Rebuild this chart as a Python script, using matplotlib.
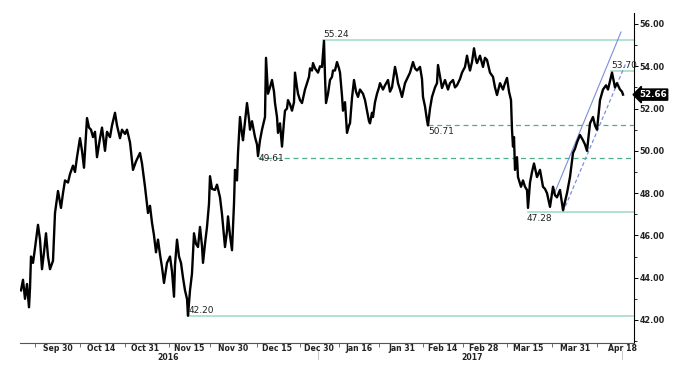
import matplotlib
matplotlib.use('Agg')
import matplotlib.pyplot as plt
import matplotlib.transforms as mtransforms
from matplotlib.ticker import MultipleLocator, FormatStrFormatter

# 시간축(봉 번호)과 가격
bar_x = [21, 23, 25, 27, 29, 30, 31, 33, 35, 38, 40, 42, 44, 46, 48, 50, 53, 55, 58, 61,
         63, 65, 68, 70, 73, 75, 77, 80, 82, 84, 87, 89, 91, 93, 95, 97, 100, 102, 105, 107,
         110, 112, 115, 117, 120, 122, 125, 127, 130, 133, 136, 140, 142, 145, 148, 150, 152, 154, 156, 158,
         160, 162, 164, 167, 170, 172, 174, 175, 177, 179, 181, 183, 185, 187, 188, 190, 192, 194, 196, 198,
         200, 202, 203, 205, 207, 209, 210, 212, 215, 217, 220, 222, 225, 227, 228, 230, 232, 234, 235, 237,
         238, 240, 242, 243, 245, 247, 249, 250, 252, 255, 257, 258, 260, 262, 265, 266, 267, 268, 270, 272,
         274, 275, 277, 278, 280, 282, 284, 285, 287, 288, 290, 292, 294, 295, 297, 298, 300, 302, 305, 307,
         309, 310, 312, 313, 315, 318, 320, 322, 323, 324, 325, 326, 328, 330, 332, 333, 335, 337, 339, 340,
         342, 343, 345, 347, 349, 350, 352, 354, 356, 358, 360, 363, 365, 367, 369, 370, 372, 373, 375, 377,
         379, 380, 383, 385, 388, 390, 392, 395, 397, 398, 400, 402, 404, 405, 408, 410, 413, 415, 417, 420,
         422, 423, 425, 427, 428, 430, 432, 435, 437, 438, 440, 442, 445, 448, 450, 453, 455, 457, 460, 462,
         465, 467, 469, 470, 472, 474, 476, 477, 480, 483, 485, 487, 490, 493, 495, 497, 500, 503, 505, 507,
         509, 511, 512, 513, 514, 515, 517, 518, 521, 523, 525, 527, 528, 530, 532, 534, 537, 540, 543, 545,
         547, 550, 553, 555, 557, 560, 563, 565, 567, 570, 573, 575, 577, 580, 583, 585, 587, 590, 593, 595,
         597, 600, 603, 606, 608, 610, 612, 615, 617, 620, 622, 623]
price = [43.4, 43.9, 43.0, 43.7, 42.6, 43.5, 45.0, 44.7, 45.4, 46.5, 45.8, 44.4, 45.2, 46.1, 45.0, 44.4, 44.8, 47.06, 48.1, 47.3,
         48.0, 48.6, 48.5, 48.9, 49.3, 49.0, 49.7, 50.6, 50.0, 49.2, 51.55, 51.1, 51.0, 50.65, 50.9, 49.7, 50.6, 51.1, 50.0, 50.9,
         50.65, 51.2, 51.8, 51.2, 50.6, 51.0, 50.8, 51.0, 50.4, 49.1, 49.5, 49.9, 49.4, 48.3, 47.06, 47.4, 46.6, 46.0, 45.2, 45.8,
         45.1, 44.5, 43.75, 44.7, 45.0, 44.3, 43.1, 44.6, 45.8, 45.0, 44.7, 44.0, 43.4, 43.0, 42.2, 43.4, 44.2, 46.1, 45.6, 45.45,
         46.4, 45.5, 44.7, 45.6, 46.4, 47.5, 48.8, 48.2, 48.15, 48.4, 47.8, 47.0, 45.45, 46.2, 46.9, 46.0, 45.3, 47.5, 49.1, 48.6,
         49.9, 51.6, 50.8, 50.5, 51.4, 52.26, 51.5, 51.0, 51.4, 50.65, 50.3, 49.75, 50.5, 51.0, 51.6, 54.4, 53.5, 52.7, 53.0, 53.35,
         52.8, 52.26, 51.6, 50.85, 51.3, 50.2, 51.4, 51.9, 52.0, 52.4, 52.2, 51.9, 52.3, 53.7, 53.0, 52.7, 52.4, 52.26, 52.9, 53.2,
         53.5, 53.9, 53.8, 54.15, 53.9, 53.7, 54.0, 53.97, 54.6, 55.2, 53.5, 52.26, 52.7, 53.35, 53.5, 53.8, 53.8, 54.2, 53.9, 53.7,
         52.6, 51.9, 52.3, 50.85, 51.2, 51.3, 52.5, 53.35, 52.8, 52.55, 52.9, 52.7, 52.4, 51.9, 51.4, 51.3, 51.8, 51.6, 52.3, 52.7,
         53.0, 53.2, 52.9, 53.1, 53.35, 52.8, 53.0, 53.97, 53.5, 53.2, 52.9, 52.55, 53.0, 53.2, 53.5, 53.7, 54.2, 53.9, 53.8, 53.97,
         53.4, 52.55, 52.1, 51.45, 51.2, 52.0, 52.55, 53.0, 53.2, 54.06, 53.5, 52.97, 53.35, 52.9, 53.2, 53.35, 53.0, 53.1, 53.4, 53.7,
         53.97, 54.5, 54.0, 53.8, 54.2, 54.85, 54.3, 54.15, 54.5, 53.97, 54.4, 54.3, 53.7, 53.5, 53.0, 52.64, 53.2, 52.9, 53.2, 53.45,
         52.8, 52.4, 51.0, 50.2, 50.65, 49.1, 49.7, 48.76, 48.3, 48.6, 48.3, 48.15, 47.3, 48.5, 49.0, 49.4, 48.76, 49.1, 48.3, 48.2,
         48.0, 47.35, 48.3, 47.9, 47.8, 48.15, 47.2, 47.6, 48.0, 48.76, 49.9, 50.1, 50.4, 50.75, 50.5, 50.3, 50.0, 51.3, 51.6, 51.2,
         51.0, 52.4, 52.9, 53.1, 52.9, 53.3, 53.7, 53.0, 53.2, 52.9, 52.8, 52.66]

# 날짜 라벨과 위치
date_labels = ['Sep 30', 'Oct 14', 'Oct 31', 'Nov 15', 'Nov 30', 'Dec 15', 'Dec 30',
               'Jan 16', 'Jan 31', 'Feb 14', 'Feb 28', 'Mar 15', 'Mar 31', 'Apr 18']
date_pos = [58, 101, 145, 189, 233, 277, 319, 359, 402, 443, 484, 528, 575, 622]
tick_marks = [35, 80, 125, 169, 210, 257, 300, 339, 379, 423, 463, 507, 552, 597]
years = ['2016', '2017']
year_pos = [168, 472]

# 수평 지지/저항선 (라벨, 가격, 시작 위치)
solid_levels = [('55.24', 55.24, 323), ('42.20', 42.20, 188), ('53.70', 53.76, 611), ('47.28', 47.10, 528)]
dashed_levels = [('49.61', 49.66, 258), ('50.71', 51.22, 428)]
channel_upper = ([555, 621], [48.05, 55.62])
channel_lower = ([563, 626], [47.11, 54.16])
last_price = 52.66

fig = plt.figure(figsize=(6.74, 3.70), dpi=100)
ax = fig.add_axes([20 / 674, 27 / 370, 614 / 674, 330 / 370])

green = '#9fd9c2'
green_d = '#4fb087'
blue = '#7d8ed8'

for lab, lv, x0 in solid_levels:
    ax.plot([x0, 634], [lv, lv], color=green, lw=1.1, zorder=1)
for lab, lv, x0 in dashed_levels:
    ax.plot([x0, 634], [lv, lv], color=green_d, lw=0.9, ls=(0, (4, 3)), zorder=1)

ax.plot(channel_upper[0], channel_upper[1], color=blue, lw=0.8, zorder=1)
ax.plot(channel_lower[0], channel_lower[1], color=blue, lw=0.9, ls=(0, (3, 2)), zorder=1)

ax.plot(bar_x, price, color='black', lw=1.7, zorder=3)

# 라벨 텍스트
fs = 6.5
ax.text(323, 55.27, '55.24', fontsize=fs, va='bottom', ha='left', color='#222222')
ax.text(189, 42.24, '42.20', fontsize=fs, va='bottom', ha='left', color='#222222')
ax.text(611, 53.82, '53.70', fontsize=fs, va='bottom', ha='left', color='#222222')
ax.text(527, 47.02, '47.28', fontsize=fs, va='top', ha='left', color='#222222')
ax.text(259, 49.66, '49.61', fontsize=fs, va='center', ha='left', color='#222222')
ax.text(428, 51.12, '50.71', fontsize=fs, va='top', ha='left', color='#222222')

ax.set_xlim(20, 634)
ax.set_ylim(40.91, 56.52)

ax.spines['top'].set_visible(False)
ax.spines['left'].set_visible(False)
ax.spines['right'].set_linewidth(0.8)
ax.spines['bottom'].set_linewidth(0.8)
ax.spines['bottom'].set_color('#555555')

ax.yaxis.tick_right()
ax.yaxis.set_major_locator(MultipleLocator(2))
ax.yaxis.set_minor_locator(MultipleLocator(1))
ax.yaxis.set_major_formatter(FormatStrFormatter('%.2f'))
ax.tick_params(axis='y', which='major', length=3, width=0.7, labelsize=5.8, pad=1)
ax.tick_params(axis='y', which='minor', length=2, width=0.6)
for t in ax.get_yticklabels():
    t.set_fontweight('bold')
    t.set_color('#222222')

ax.set_xticks(tick_marks)
ax.set_xticklabels([])
ax.set_xticks(date_pos, minor=True)
ax.set_xticklabels(date_labels, minor=True, fontsize=5.6, fontweight='bold', color='#222222')
ax.tick_params(axis='x', which='major', length=3, width=0.6, color='#555555')
ax.tick_params(axis='x', which='minor', length=0, pad=1)

trans = mtransforms.blended_transform_factory(ax.transData, fig.transFigure)
for yr, xp in zip(years, year_pos):
    fig.text(xp, 1 - 357.5 / 370, yr, transform=trans, fontsize=5.6, fontweight='bold',
             ha='center', va='center', color='#222222')
for xp in [318, 622]:
    ax.plot([xp, xp], [1 - 351 / 370, 1 - 359 / 370], transform=trans, color='#cccccc',
            lw=0.8, clip_on=False)

tr_y = mtransforms.blended_transform_factory(ax.transAxes, ax.transData)
ax.text(1.008, last_price, '52.66', transform=tr_y, fontsize=6.3, fontweight='bold',
        color='white', va='center', ha='left',
        bbox=dict(boxstyle='larrow,pad=0.12', fc='black', ec='black'))

fig.savefig('out.png', dpi=100)
